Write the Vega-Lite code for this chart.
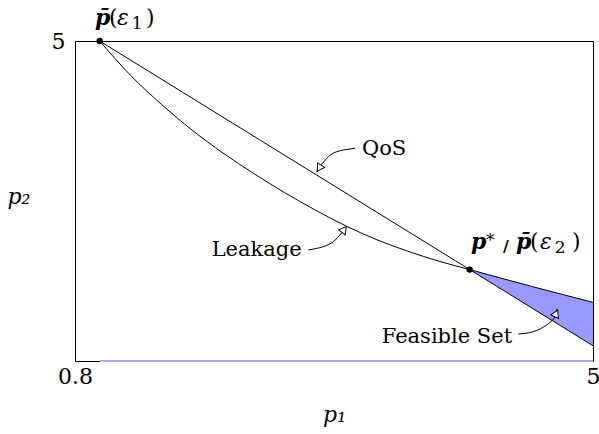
{
  "$schema": "https://vega.github.io/schema/vega-lite/v6.json",
  "width": 518,
  "height": 320,
  "autosize": {"type": "none"},
  "padding": {"left": 75, "top": 41, "right": 6, "bottom": 73},
  "background": "white",
  "config": {"view": {"stroke": "black", "strokeWidth": 1}, "font": "DejaVu Serif"},
  "datasets": {
    "curves": [
      {"series": "QoS", "i": 0, "x": 1, "y": 5},
      {"series": "QoS", "i": 1, "x": 5, "y": 1},
      {"series": "Leakage", "i": 0, "x": 1.0, "y": 5.0},
      {"series": "Leakage", "i": 1, "x": 1.25, "y": 4.55},
      {"series": "Leakage", "i": 2, "x": 1.5, "y": 4.17},
      {"series": "Leakage", "i": 3, "x": 1.75, "y": 3.83},
      {"series": "Leakage", "i": 4, "x": 2.0, "y": 3.53},
      {"series": "Leakage", "i": 5, "x": 2.25, "y": 3.26},
      {"series": "Leakage", "i": 6, "x": 2.5, "y": 3.01},
      {"series": "Leakage", "i": 7, "x": 2.75, "y": 2.78},
      {"series": "Leakage", "i": 8, "x": 3.0, "y": 2.57},
      {"series": "Leakage", "i": 9, "x": 3.25, "y": 2.39},
      {"series": "Leakage", "i": 10, "x": 3.5, "y": 2.24},
      {"series": "Leakage", "i": 11, "x": 3.75, "y": 2.11},
      {"series": "Leakage", "i": 12, "x": 4.0, "y": 2.0},
      {"series": "Leakage", "i": 13, "x": 4.5, "y": 1.78},
      {"series": "Leakage", "i": 14, "x": 5.0, "y": 1.57}
    ],
    "feasible": [
      {"x": 4.0, "y": 2.0, "lo": 2.0},
      {"x": 4.5, "y": 1.78, "lo": 1.5},
      {"x": 5.0, "y": 1.57, "lo": 1.0}
    ],
    "base": [{"x": 1, "x2": 5, "y": 0.8}],
    "arrows": [
      {"arrow": "QoS", "i": 0, "x": 3.07, "y": 3.592},
      {"arrow": "QoS", "i": 1, "x": 2.922, "y": 3.547},
      {"arrow": "QoS", "i": 2, "x": 2.841, "y": 3.46},
      {"arrow": "QoS", "i": 3, "x": 2.786, "y": 3.35},
      {"arrow": "QoS", "i": 4, "x": 2.76, "y": 3.28},
      {"arrow": "Leakage", "i": 0, "x": 2.692, "y": 2.257},
      {"arrow": "Leakage", "i": 1, "x": 2.813, "y": 2.3},
      {"arrow": "Leakage", "i": 2, "x": 2.894, "y": 2.366},
      {"arrow": "Leakage", "i": 3, "x": 2.949, "y": 2.454},
      {"arrow": "Leakage", "i": 4, "x": 3.003, "y": 2.572},
      {"arrow": "Feasible", "i": 0, "x": 4.394, "y": 1.154},
      {"arrow": "Feasible", "i": 1, "x": 4.516, "y": 1.185},
      {"arrow": "Feasible", "i": 2, "x": 4.625, "y": 1.273},
      {"arrow": "Feasible", "i": 3, "x": 4.692, "y": 1.381},
      {"arrow": "Feasible", "i": 4, "x": 4.708, "y": 1.483}
    ],
    "heads": [
      {"arrow": "QoS", "x": 2.785, "y": 3.345},
      {"arrow": "Leakage", "x": 2.976, "y": 2.513},
      {"arrow": "Feasible", "x": 4.697, "y": 1.41}
    ],
    "points": [{"x": 1, "y": 5}, {"x": 4, "y": 2}],
    "boldItalic": [
      {"t": "p\u0304", "x": 0.962, "y": 5.21},
      {"t": "p", "x": 4.011, "y": 2.27},
      {"t": "p\u0304", "x": 4.376, "y": 2.27}
    ],
    "italic": [
      {"t": "ε", "x": 1.141, "y": 5.21},
      {"t": "ε", "x": 4.57, "y": 2.27}
    ],
    "parens": [
      {"t": "(", "x": 1.076, "y": 5.21},
      {"t": ")", "x": 1.376, "y": 5.21},
      {"t": "(", "x": 4.489, "y": 2.27},
      {"t": ")", "x": 4.83, "y": 2.27}
    ],
    "regular": [
      {"t": "QoS", "x": 3.127, "y": 3.504},
      {"t": "Leakage", "x": 1.908, "y": 2.172},
      {"t": "Feasible Set", "x": 3.287, "y": 1.032}
    ],
    "small": [
      {"t": "1", "x": 1.26, "y": 5.1575},
      {"t": "2", "x": 4.69, "y": 2.2175},
      {"t": "*", "x": 4.132, "y": 2.309}
    ],
    "slash": [{"t": "/", "x": 4.27, "y": 2.231}]
  },
  "encoding": {
    "x": {
      "field": "x", "type": "quantitative",
      "scale": {"domain": [0.8, 5], "nice": false, "zero": false},
      "axis": {
        "values": [0.8, 5], "labelExpr": "toString(datum.value)",
        "ticks": false, "domain": false, "grid": false,
        "labelFont": "DejaVu Serif", "labelFontSize": 22, "labelColor": "black",
        "labelPadding": 5, "labelFlush": false, "labelOverlap": false,
        "title": "p₁", "titleFont": "DejaVu Serif", "titleFontStyle": "italic",
        "titleFontWeight": "normal", "titleFontSize": 22, "titleColor": "black",
        "titleX": 259, "titleY": 60, "titleBaseline": "alphabetic", "titleAlign": "center"
      }
    },
    "y": {
      "field": "y", "type": "quantitative",
      "scale": {"domain": [0.8, 5], "nice": false, "zero": false},
      "axis": {
        "values": [5], "labelExpr": "toString(datum.value)",
        "ticks": false, "domain": false, "grid": false,
        "labelFont": "DejaVu Serif", "labelFontSize": 22, "labelColor": "black",
        "labelPadding": 10, "labelOverlap": false,
        "title": "p₂", "titleFont": "DejaVu Serif", "titleFontStyle": "italic",
        "titleFontWeight": "normal", "titleFontSize": 22, "titleColor": "black",
        "titleAngle": 0, "titleX": -68, "titleY": 162, "titleBaseline": "alphabetic", "titleAlign": "left"
      }
    }
  },
  "layer": [
    {
      "data": {"name": "feasible"},
      "mark": {"type": "area", "color": "#9999ff", "opacity": 1},
      "encoding": {"y2": {"field": "lo"}}
    },
    {
      "data": {"name": "base"},
      "mark": {"type": "rule", "color": "#a8a8f6", "strokeWidth": 2},
      "encoding": {"x2": {"field": "x2"}}
    },
    {
      "data": {"name": "curves"},
      "mark": {"type": "line", "color": "black", "strokeWidth": 1, "interpolate": "monotone"},
      "encoding": {"detail": {"field": "series"}, "order": {"field": "i"}}
    },
    {
      "data": {"name": "arrows"},
      "mark": {"type": "line", "color": "black", "strokeWidth": 1, "interpolate": "natural"},
      "encoding": {"detail": {"field": "arrow"}, "order": {"field": "i"}}
    },
    {
      "data": {"name": "heads"},
      "transform": [{"filter": "datum.arrow === 'QoS'"}],
      "mark": {"type": "point", "shape": "triangle", "size": 70, "filled": true, "fill": "white", "stroke": "black", "strokeWidth": 1, "opacity": 1, "angle": 213}
    },
    {
      "data": {"name": "heads"},
      "transform": [{"filter": "datum.arrow === 'Leakage'"}],
      "mark": {"type": "point", "shape": "triangle", "size": 70, "filled": true, "fill": "white", "stroke": "black", "strokeWidth": 1, "opacity": 1, "angle": 37}
    },
    {
      "data": {"name": "heads"},
      "transform": [{"filter": "datum.arrow === 'Feasible'"}],
      "mark": {"type": "point", "shape": "triangle", "size": 70, "filled": true, "fill": "white", "stroke": "black", "strokeWidth": 1, "opacity": 1, "angle": 25}
    },
    {
      "data": {"name": "points"},
      "mark": {"type": "circle", "color": "black", "size": 40, "opacity": 1}
    },
    {
      "data": {"name": "boldItalic"},
      "mark": {"type": "text", "font": "DejaVu Serif", "fontSize": 22, "fontWeight": "bold", "fontStyle": "italic", "align": "left", "baseline": "alphabetic", "color": "black"},
      "encoding": {"text": {"field": "t"}}
    },
    {
      "data": {"name": "italic"},
      "mark": {"type": "text", "font": "DejaVu Serif", "fontSize": 22, "fontStyle": "italic", "align": "left", "baseline": "alphabetic", "color": "black"},
      "encoding": {"text": {"field": "t"}}
    },
    {
      "data": {"name": "parens"},
      "mark": {"type": "text", "font": "DejaVu Serif", "fontSize": 22, "align": "left", "baseline": "alphabetic", "color": "black"},
      "encoding": {"text": {"field": "t"}}
    },
    {
      "data": {"name": "regular"},
      "mark": {"type": "text", "font": "DejaVu Serif", "fontSize": 21, "align": "left", "baseline": "alphabetic", "color": "black"},
      "encoding": {"text": {"field": "t"}}
    },
    {
      "data": {"name": "small"},
      "mark": {"type": "text", "font": "DejaVu Serif", "fontSize": 17, "align": "left", "baseline": "alphabetic", "color": "black"},
      "encoding": {"text": {"field": "t"}}
    },
    {
      "data": {"name": "slash"},
      "mark": {"type": "text", "font": "DejaVu Sans", "fontSize": 16, "fontWeight": "bold", "align": "left", "baseline": "alphabetic", "color": "black"},
      "encoding": {"text": {"field": "t"}}
    }
  ]
}
